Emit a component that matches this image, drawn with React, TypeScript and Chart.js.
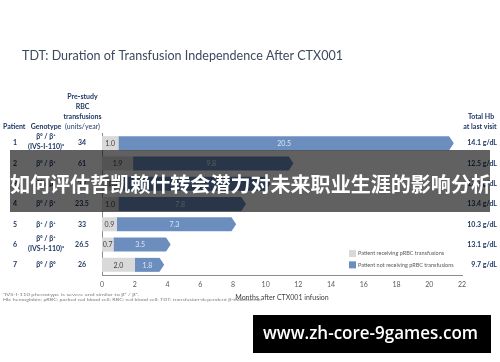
import React, { useEffect, useRef } from 'react';
import { Chart, registerables } from 'chart.js';

Chart.register(...registerables);

const titleText = 'TDT: Duration of Transfusion Independence After CTX001';
const patients = ['1', '2', '3', '4', '5', '6', '7'];
const genotypes: string[][] = [
  ['β⁰ / β⁺', '(IVS-I-110)ᵃ'],
  ['β⁰ / β⁺'],
  ['β⁰ / β⁰'],
  ['β⁰ / β⁺'],
  ['β⁺ / β⁺'],
  ['β⁰ / β⁺', '(IVS-I-110)ᵃ'],
  ['β⁰ / β⁰'],
];
const preStudyUnits = ['34', '61', '39', '23.5', '33', '26.5', '26'];
const receivingMonths = [1.0, 1.9, 1.3, 1.0, 0.9, 0.7, 2.0];
const notReceivingMonths = [20.5, 9.8, 9.0, 7.8, 7.3, 3.5, 1.8];
const totalHb = ['14.1 g/dL', '12.5 g/dL', '12.2 g/dL', '13.4 g/dL', '10.3 g/dL', '13.1 g/dL', '9.7 g/dL'];
const seriesNames = ['Patient receiving pRBC transfusions', 'Patient not receiving pRBC transfusions'];
const xAxisTitle = 'Months after CTX001 infusion';
const footnotes = [
  'ᵃIVS-I-110 phenotype is severe and similar to β⁰ / β⁰.',
  'Hb: hemoglobin; pRBC: packed red blood cell; RBC: red blood cell; TDT: transfusion-dependent β-thalassemia.',
];
const bannerText = '如何评估哲凯赖什转会潜力对未来职业生涯的影响分析';
const watermarkText = 'www.zh-core-9games.com';

const GRAY = '#d9d9d9';
const BLUE = '#6c8ebf';
const NAVY = '#1f3864';
const FONT = 'Lato, "Open Sans", sans-serif';

type TOpt = {
  size: number;
  weight?: string | number;
  color: string;
  align?: CanvasTextAlign;
  family?: string;
  width?: number;
};

function txt(ctx: CanvasRenderingContext2D, s: string, x: number, y: number, o: TOpt) {
  ctx.save();
  ctx.font = `${o.weight || 'normal'} ${o.size}px ${o.family || FONT}`;
  ctx.fillStyle = o.color;
  ctx.textBaseline = 'middle';
  ctx.textAlign = o.align || 'left';
  if (o.width) {
    const w = ctx.measureText(s).width;
    const k = o.width / w;
    ctx.translate(x, y);
    ctx.scale(k, 1);
    ctx.fillText(s, 0, 0);
  } else {
    ctx.fillText(s, x, y);
  }
  ctx.restore();
}

const decorPlugin = {
  id: 'decor',
  afterDatasetsDraw(chart: any) {
    const ctx: CanvasRenderingContext2D = chart.ctx;
    const meta = chart.getDatasetMeta(1);
    meta.data.forEach((el: any) => {
      const { x, y, height } = el.getProps(['x', 'y', 'height'], true);
      const h2 = height / 2;
      const aw = 5;
      ctx.save();
      ctx.fillStyle = '#ffffff';
      ctx.beginPath();
      ctx.moveTo(x - aw, y - h2 - 0.5);
      ctx.lineTo(x + 1, y - h2 - 0.5);
      ctx.lineTo(x + 1, y);
      ctx.lineTo(x, y);
      ctx.closePath();
      ctx.fill();
      ctx.beginPath();
      ctx.moveTo(x - aw, y + h2 + 0.5);
      ctx.lineTo(x + 1, y + h2 + 0.5);
      ctx.lineTo(x + 1, y);
      ctx.lineTo(x, y);
      ctx.closePath();
      ctx.fill();
      ctx.restore();
    });
    [0, 1].forEach((di) => {
      const m = chart.getDatasetMeta(di);
      const vals = chart.data.datasets[di].data as number[];
      m.data.forEach((el: any, i: number) => {
        const { x, y, base } = el.getProps(['x', 'y', 'base'], true);
        const cx = (x + base) / 2 - (di === 1 ? 2 : 0);
        txt(ctx, vals[i].toFixed(1), cx, y + 0.5, {
          size: 7,
          color: di === 0 ? '#404040' : '#dbe4f1',
          align: 'center',
        });
      });
    });
  },
  afterDraw(chart: any) {
    const ctx: CanvasRenderingContext2D = chart.ctx;
    const ys = chart.scales.y;
    const area = chart.chartArea;

    txt(ctx, titleText, 22, 55, { size: 14, color: '#3c4a5e', width: 321 });

    const hb = { size: 7, weight: 'bold', color: NAVY, align: 'center' as CanvasTextAlign };
    txt(ctx, 'Pre-study', 82.5, 97, hb);
    txt(ctx, 'RBC', 82.5, 106.5, hb);
    txt(ctx, 'transfusions', 82.5, 117, hb);
    txt(ctx, '(units/year)', 82.5, 127, { ...hb, weight: 'normal' });
    txt(ctx, 'Patient', 3, 127, { ...hb, align: 'left' });
    txt(ctx, 'Genotype', 46, 127, hb);
    txt(ctx, 'Total Hb', 481, 117, hb);
    txt(ctx, 'at last visit', 480, 127, hb);

    patients.forEach((p, i) => {
      const y = ys.getPixelForValue(i);
      txt(ctx, p, 15, y, hb);
      const g = genotypes[i];
      if (g.length === 1) {
        txt(ctx, g[0], 46, y, hb);
      } else {
        txt(ctx, g[0], 46, y - 6, hb);
        txt(ctx, g[1], 46, y + 4, hb);
      }
      txt(ctx, preStudyUnits[i], 82, y, hb);
      txt(ctx, totalHb[i], 497, y, { ...hb, align: 'right' });
    });

    const lg = [GRAY, BLUE];
    const ly = [ys.getPixelForValue(5) + 9, ys.getPixelForValue(6)];
    lg.forEach((c, i) => {
      ctx.fillStyle = c;
      ctx.fillRect(349, ly[i] - 3.5, 7, 7);
      txt(ctx, seriesNames[i], 358, ly[i], { size: 5.5, color: '#595959' });
    });

    txt(ctx, xAxisTitle, (area.left + area.right) / 2, area.bottom + 22.5, {
      size: 7,
      color: '#404040',
      align: 'center',
    });

    txt(ctx, footnotes[0], 3, 295, { size: 4.5, color: '#7f7f7f', width: 136 });
    txt(ctx, footnotes[1], 3, 299.5, { size: 4.5, color: '#7f7f7f', width: 259 });

    ctx.save();
    ctx.fillStyle = 'rgba(0,0,0,0.62)';
    ctx.fillRect(10, 150, 480, 62);
    ctx.restore();
    txt(ctx, bannerText, 10, 184, {
      size: 20,
      weight: 'bold',
      color: '#ffffff',
      family: '"Noto Sans CJK SC", sans-serif',
      width: 481,
    });

    ctx.save();
    ctx.fillStyle = '#000000';
    ctx.fillRect(253, 315, 238, 38);
    ctx.restore();
    txt(ctx, watermarkText, 263, 334, {
      size: 18,
      weight: 600,
      color: '#ffffff',
      family: '"Open Sans", sans-serif',
      width: 215,
    });
  },
};

export default function App() {
  const ref = useRef<HTMLCanvasElement>(null);
  useEffect(() => {
    if (!ref.current) return;
    const chart = new Chart(ref.current, {
      type: 'bar',
      data: {
        labels: patients,
        datasets: [
          {
            label: seriesNames[0],
            data: receivingMonths,
            backgroundColor: GRAY,
            barPercentage: 0.69,
            categoryPercentage: 1,
          },
          {
            label: seriesNames[1],
            data: notReceivingMonths,
            backgroundColor: BLUE,
            barPercentage: 0.69,
            categoryPercentage: 1,
          },
        ],
      },
      options: {
        indexAxis: 'y',
        animation: false,
        responsive: false,
        devicePixelRatio: 1,
        layout: { padding: { top: 133, right: 38, left: 0, bottom: 0 } },
        plugins: { legend: { display: false }, tooltip: { enabled: false } },
        scales: {
          x: {
            type: 'linear',
            stacked: true,
            min: 0,
            max: 22,
            ticks: { stepSize: 2, font: { family: FONT, size: 7 }, color: '#595959', padding: 6 },
            grid: { display: false, drawTicks: false },
            border: { display: true, color: '#8c8c8c' },
            afterFit: (s: any) => {
              s.height = 87;
            },
          },
          y: {
            type: 'category',
            stacked: true,
            ticks: { display: false },
            grid: { display: false, drawTicks: false },
            border: { display: true, color: '#8c8c8c' },
            afterFit: (s: any) => {
              s.width = 102;
            },
          },
        },
      } as any,
      plugins: [decorPlugin],
    });
    return () => chart.destroy();
  }, []);
  return (
    <div style={{ position: 'absolute', left: 0, top: 0, width: 500, height: 362, background: '#fff' }}>
      <canvas ref={ref} width={500} height={362} style={{ display: 'block' }} />
    </div>
  );
}
